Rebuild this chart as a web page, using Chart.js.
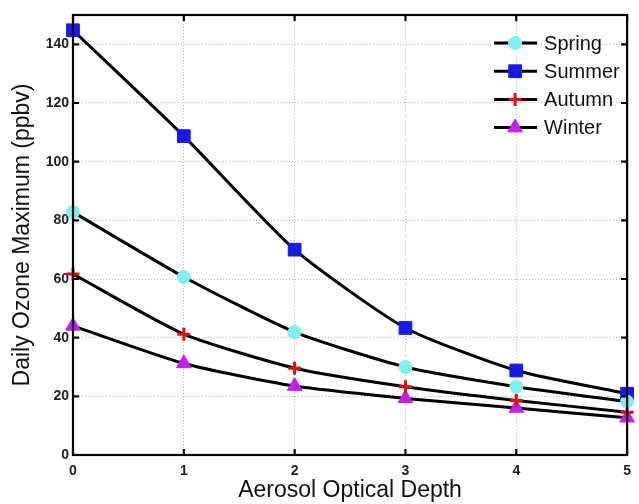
<!DOCTYPE html>
<html>
<head>
<meta charset="utf-8">
<script src="https://cdn.jsdelivr.net/npm/chart.js@4"></script>
<style>
  html, body { margin: 0; padding: 0; background: #fff; }
  #wrap { width: 639px; height: 504px; }
</style>
</head>
<body>
<div id="wrap"><canvas id="ozoneChart"></canvas></div>
<script>
// data
var depth = [0, 1, 2, 3, 4, 5];
var spring = [82.8, 60.7, 41.9, 30.0, 23.3, 18.2];
var summer = [144.8, 108.7, 70.0, 43.3, 28.8, 20.9];
var autumn = [61.7, 41.2, 29.6, 23.3, 18.6, 14.6];
var winter = [44.0, 31.2, 23.5, 19.3, 16.0, 12.7];
var yTicks = [0, 20, 40, 60, 80, 100, 120, 140];

var font = 'Arial, "Liberation Sans", Helvetica, sans-serif';

function series(label, values, style, color, radius, width) {
    return {
        label: label,
        data: values.map(function(v, i) { return { x: depth[i], y: v }; }),
        borderColor: '#000',
        borderWidth: 3,
        pointStyle: style,
        pointRadius: radius,
        pointBackgroundColor: color,
        pointBorderColor: color,
        pointBorderWidth: width,
        tension: 0.2,
        clip: 12
    };
}

// MATLAB style box with inward ticks + legend with line through marker
var boxPlugin = {
    id: 'boxPlugin',
    afterDatasetsDraw: function(chart) {
        var ctx = chart.ctx, a = chart.chartArea;
        var xs = chart.scales.x, ys = chart.scales.y;
        ctx.save();
        ctx.strokeStyle = '#000';
        ctx.lineWidth = 2.2;
        ctx.strokeRect(a.left, a.top, a.right - a.left, a.bottom - a.top);
        ctx.beginPath();
        depth.forEach(function(d) {
            var px = xs.getPixelForValue(d);
            ctx.moveTo(px, a.bottom); ctx.lineTo(px, a.bottom - 6);
            ctx.moveTo(px, a.top); ctx.lineTo(px, a.top + 6);
        });
        yTicks.forEach(function(t) {
            var py = ys.getPixelForValue(t);
            ctx.moveTo(a.left, py); ctx.lineTo(a.left + 6, py);
            ctx.moveTo(a.right, py); ctx.lineTo(a.right - 6, py);
        });
        ctx.stroke();

        // legend
        var lx = a.right - 133, ly = a.top + 28;
        chart.data.datasets.forEach(function(ds, i) {
            var y = ly + i * 28.2;
            ctx.beginPath();
            ctx.strokeStyle = '#000';
            ctx.lineWidth = 3;
            ctx.moveTo(lx, y); ctx.lineTo(lx + 43, y);
            ctx.stroke();
            ctx.fillStyle = ds.pointBackgroundColor;
            ctx.strokeStyle = ds.pointBorderColor;
            ctx.lineWidth = ds.pointBorderWidth;
            Chart.helpers.drawPoint(ctx, {
                pointStyle: ds.pointStyle,
                radius: ds.pointRadius,
                borderWidth: ds.pointBorderWidth,
                rotation: 0
            }, lx + 21, y);
            ctx.fillStyle = '#111';
            ctx.font = '20px ' + font;
            ctx.textBaseline = 'middle';
            ctx.textAlign = 'left';
            ctx.fillText(ds.label, lx + 50, y + 1);
        });
        ctx.restore();
    }
};

new Chart(document.getElementById('ozoneChart'), {
    type: 'line',
    data: {
        datasets: [
            series('Spring', spring, 'circle', '#7ff0f0', 6.5, 1),
            series('Summer', summer, 'rect', '#1a1ae6', 9, 1),
            series('Autumn', autumn, 'cross', '#e01010', 6.5, 3),
            series('Winter', winter, 'triangle', '#c21ef0', 8.5, 1)
        ]
    },
    options: {
        responsive: true,
        maintainAspectRatio: false,
        animation: false,
        layout: { padding: { top: 15, right: 6, left: 0, bottom: 0 } },
        plugins: { legend: { display: false }, tooltip: { enabled: false } },
        scales: {
            x: {
                type: 'linear',
                min: 0,
                max: 5,
                afterFit: function(s) { s.height = 49; },
                afterBuildTicks: function(s) { s.ticks = depth.map(function(v) { return { value: v }; }); },
                grid: { color: '#b8b8b8', drawTicks: false },
                border: { display: false, dash: [1, 2] },
                ticks: { color: '#222', font: { family: font, size: 14, weight: 'bold' }, padding: 8 },
                title: { display: true, text: 'Aerosol Optical Depth', color: '#111',
                         font: { family: font, size: 23 }, padding: { top: 0, bottom: 0 } }
            },
            y: {
                min: 0,
                max: 150,
                afterFit: function(s) { s.width = 73; },
                afterBuildTicks: function(s) { s.ticks = yTicks.map(function(v) { return { value: v }; }); },
                grid: { color: '#b8b8b8', drawTicks: false },
                border: { display: false, dash: [1, 2] },
                ticks: { color: '#222', font: { family: font, size: 14, weight: 'bold' }, padding: 4 },
                title: { display: true, text: 'Daily Ozone Maximum (ppbv)', color: '#111',
                         font: { family: font, size: 23 }, padding: { top: 9, bottom: 0 } }
            }
        }
    },
    plugins: [boxPlugin]
});
</script>
</body>
</html>
